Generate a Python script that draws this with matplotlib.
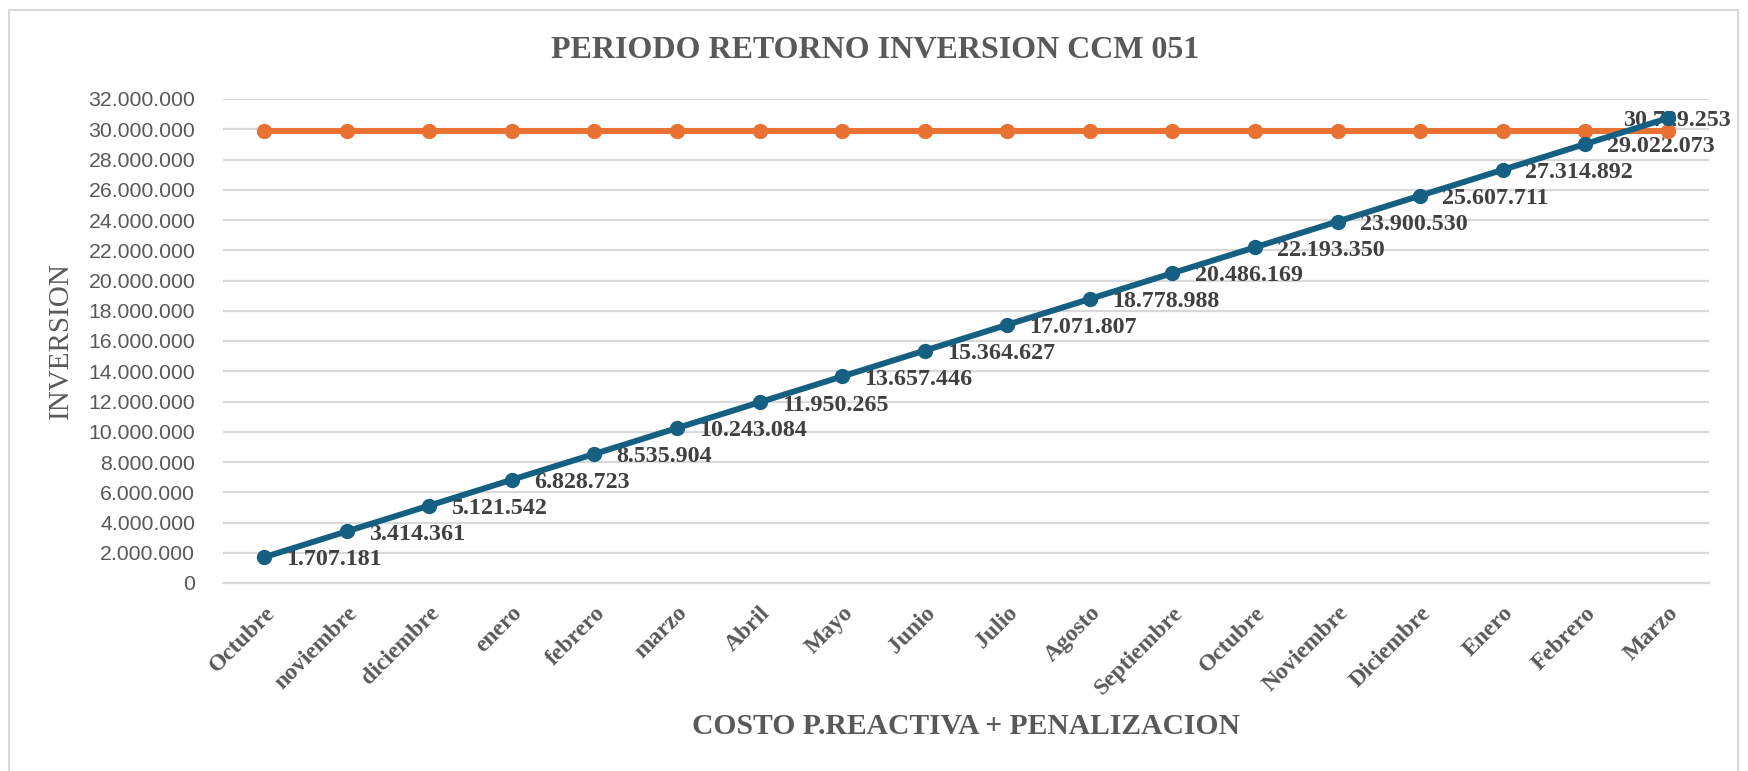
import matplotlib
matplotlib.use("Agg")
import matplotlib.pyplot as plt
from matplotlib.patches import Rectangle
from matplotlib.ticker import FuncFormatter

meses = ["Octubre", "noviembre", "diciembre", "enero", "febrero", "marzo",
         "Abril", "Mayo", "Junio", "Julio", "Agosto", "Septiembre",
         "Octubre", "Noviembre", "Diciembre", "Enero", "Febrero", "Marzo"]
acumulado = [1707181, 3414361, 5121542, 6828723, 8535904, 10243084,
             11950265, 13657446, 15364627, 17071807, 18778988, 20486169,
             22193350, 23900530, 25607711, 27314892, 29022073, 30729253]
inversion = [29900000] * len(meses)

azul = "#156082"
naranja = "#E97132"
gris = "#595959"
serif = "Liberation Serif"
sans = "Liberation Sans"

fig = plt.figure(figsize=(17.49, 7.71), dpi=100)
W, H = 1749, 771
ax = fig.add_axes([223 / W, 1 - 583 / H, (1709 - 223) / W, (583 - 99) / H])

# marco del area del grafico
fig.patches.append(Rectangle((9 / W, -0.1), (1738 - 9) / W, 1.1 - 10 / H,
                             transform=fig.transFigure, fill=False,
                             edgecolor="#D9D9D9", linewidth=1.5))

x = list(range(len(meses)))
ax.plot(x, inversion, color=naranja, linewidth=4.3, marker="o",
        markersize=10, zorder=3)
ax.plot(x, acumulado, color=azul, linewidth=4.3, marker="o",
        markersize=10, zorder=4)

for i, v in enumerate(acumulado):
    texto = f"{v:,}".replace(",", ".")
    dx = -32 if i == len(acumulado) - 1 else 16
    ax.annotate(texto, (i, v), xytext=(dx, -2), textcoords="offset points",
                ha="left", va="center", fontsize=17.3, fontweight="bold",
                family=serif, color="#404040", zorder=2)

ax.set_xlim(-0.5, len(meses) - 0.5)
ax.set_ylim(0, 32000000)
ax.set_yticks(range(0, 32000001, 2000000))
ax.yaxis.set_major_formatter(FuncFormatter(lambda v, p: f"{int(v):,}".replace(",", ".")))
ax.grid(axis="y", color="#D9D9D9", linewidth=1.6)
ax.set_axisbelow(True)
for s in ["top", "right", "left"]:
    ax.spines[s].set_visible(False)
ax.spines["bottom"].set_color("#D9D9D9")
ax.spines["bottom"].set_linewidth(1.6)
ax.tick_params(length=0)
for t in ax.get_yticklabels():
    t.set_family(sans)
    t.set_fontsize(15.3)
    t.set_color(gris)
ax.tick_params(axis="y", pad=20)

ax.set_xticks(x)
ax.set_xticklabels(meses, rotation=45, ha="right", rotation_mode="anchor",
                   family=serif, fontweight="bold", fontsize=17, color=gris)
ax.tick_params(axis="x", pad=14)

fig.text(875 / W, 1 - 50 / H, "PERIODO RETORNO INVERSION CCM 051",
         ha="center", va="center", family=serif, fontweight="bold",
         fontsize=23, color=gris)
fig.text(61 / W, 1 - 341 / H, "INVERSION", rotation=90, ha="center",
         va="center", family=serif, fontsize=21, color=gris)
fig.text(966 / W, 1 - 727 / H, "COSTO P.REACTIVA + PENALIZACION",
         ha="center", va="center", family=serif, fontweight="bold",
         fontsize=21.3, color=gris)

fig.savefig("out.png", dpi=100)
